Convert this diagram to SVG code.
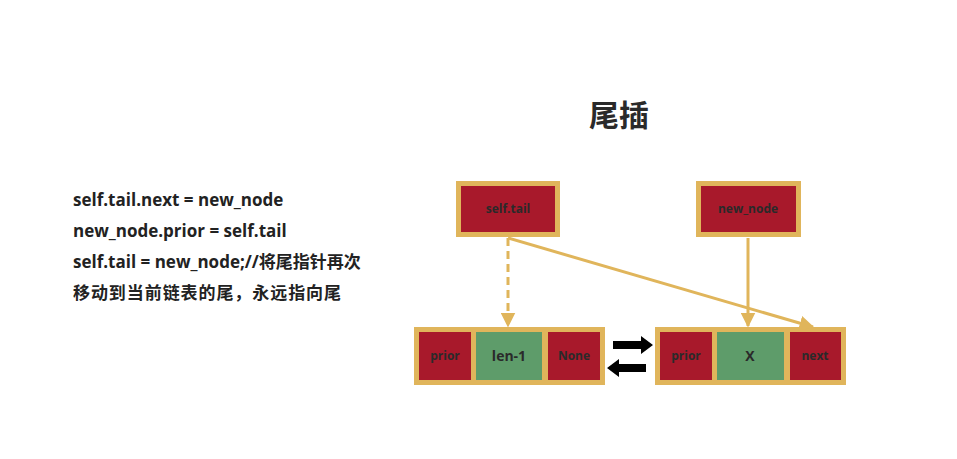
<svg xmlns="http://www.w3.org/2000/svg" width="957" height="459" viewBox="0 0 957 459">
<defs>
<style>
.cell{stroke:#E0B55B;stroke-width:5}
.red{fill:#A8192B}
.green{fill:#5E9C6A}
.lbl{font-family:"Open Sans","Noto Sans CJK SC",sans-serif;font-weight:bold;fill:#2a2a2a;text-anchor:middle}
.code{font-family:"Open Sans","Noto Sans CJK SC",sans-serif;font-weight:bold;font-size:17px;fill:#222}
.conn{stroke:#E0B55B;stroke-width:3;fill:none}
</style>
<marker id="ah" viewBox="0 0 10 10" refX="9" refY="5" markerWidth="5" markerHeight="5" markerUnits="strokeWidth" orient="auto">
<path d="M0,0 L10,5 L0,10 z" fill="#E0B55B"/>
</marker>
</defs>
<rect width="957" height="459" fill="#fff"/>
<text x="619" y="126" font-family="'Noto Sans CJK SC',sans-serif" font-weight="bold" font-size="30" fill="#2a2a2a" text-anchor="middle">尾插</text>
<g id="code">
<text class="code" x="73" y="206">self.tail.next = new_node</text>
<text class="code" x="73" y="237">new_node.prior = self.tail</text>
<text class="code" x="73" y="268">self.tail = new_node;//将尾指针再次</text>
<text class="code" x="73" y="299" font-size="18" textLength="268" lengthAdjust="spacing">移动到当前链表的尾，永远指向尾</text>
</g>
<g id="node-selftail">
<rect class="cell red" x="458.5" y="183.5" width="99" height="51"/>
<text class="lbl" x="508" y="213" font-size="12">self.tail</text>
</g>
<g id="node-newnode">
<rect class="cell red" x="698.5" y="183.5" width="100" height="51"/>
<text class="lbl" x="748" y="213" font-size="12">new_node</text>
</g>
<g id="node-left">
<rect class="cell green" x="473.5" y="329.5" width="71" height="53"/>
<rect class="cell red" x="416.5" y="329.5" width="57" height="53"/>
<rect class="cell red" x="545.5" y="329.5" width="57" height="53"/>
<text class="lbl" x="445" y="360" font-size="12">prior</text>
<text class="lbl" x="509" y="361" font-size="14">len-1</text>
<text class="lbl" x="574" y="360" font-size="12">None</text>
</g>
<g id="node-right">
<rect class="cell green" x="714.5" y="329.5" width="72" height="53"/>
<rect class="cell red" x="657.5" y="329.5" width="57" height="53"/>
<rect class="cell red" x="787.5" y="329.5" width="56" height="53"/>
<text class="lbl" x="686" y="360" font-size="12">prior</text>
<text class="lbl" x="750" y="361" font-size="14">X</text>
<text class="lbl" x="815" y="360" font-size="12">next</text>
</g>
<g id="connectors">
<line class="conn" x1="508" y1="238" x2="508" y2="326" stroke-dasharray="8,5" marker-end="url(#ah)"/>
<line class="conn" x1="748" y1="238" x2="748" y2="326" marker-end="url(#ah)"/>
<line class="conn" x1="508" y1="238" x2="813" y2="327" marker-end="url(#ah)"/>
<path d="M613,341 H641 V336 L653,345 L641,354 V349 H613 z" fill="#000"/>
<path d="M646,364 H619 V359 L607,368 L619,377 V372 H646 z" fill="#000"/>
</g>
</svg>
